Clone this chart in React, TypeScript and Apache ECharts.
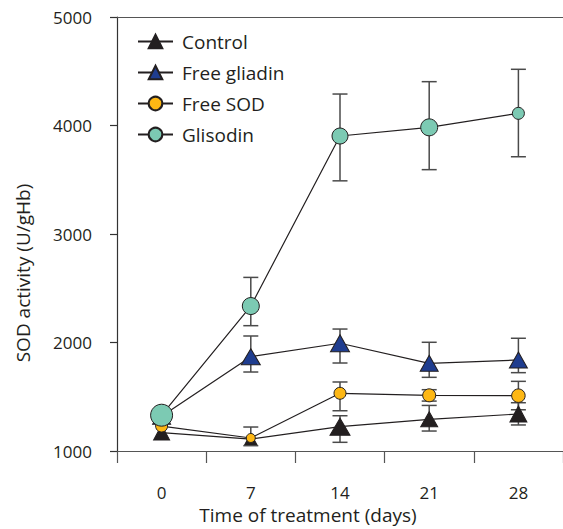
import React, { useEffect, useRef } from 'react';
import * as echarts from 'echarts';

// ---- data ----
const days = ['0', '7', '14', '21', '28'];

const controlMean = [1170, 1110, 1224, 1292, 1341];
const controlLow = [null, null, 1080, 1184, 1240];
const controlHigh = [null, null, 1325, 1420, 1445];

const gliadinMean = [1320, 1869, 1993, 1808, 1839];
const gliadinLow = [null, 1728, 1811, 1679, 1722];
const gliadinHigh = [null, 2060, 2124, 2002, 2039];

const sodMean = [1230, 1120, 1532, 1513, 1510];
const sodLow = [null, 1049, 1371, 1460, 1380];
const sodHigh = [null, 1221, 1636, 1565, 1642];

const glisodinMean = [1330, 2336, 3903, 3983, 4112];
const glisodinLow = [null, 2155, 3490, 3593, 3712];
const glisodinHigh = [null, 2600, 4290, 4404, 4518];

// ---- styles ----
const FONT = '"Open Sans", "Noto Sans", sans-serif';
const INK = '#231f20';
const AXIS = '#555555';

const controlSizes = [[16, 15], [12, 11], [20, 17], [17, 15], [17, 16]];
const gliadinSizes = [[18, 16], [19, 16], [19, 17], [18, 16], [18, 16]];
const sodSizes = [12, 9, 12, 13, 13.5];
const glisodinSizes = [22, 17, 16, 17, 12];

function withSizes(vals: number[], sizes: any[]) {
  return vals.map((v, i) => ({ value: v, symbolSize: sizes[i] }));
}

function errData(low: (number | null)[], high: (number | null)[]) {
  const out: number[][] = [];
  low.forEach((lo, i) => {
    const hi = high[i];
    if (lo != null && hi != null) out.push([i, lo, hi]);
  });
  return out;
}

const errStyle = { stroke: '#4a4a4a', lineWidth: 1.5, fill: null };
const renderErr = (params: any, api: any) => {
  const idx = api.value(0);
  const lo = api.coord([idx, api.value(1)]);
  const hi = api.coord([idx, api.value(2)]);
  const hw = 7.5;
  return {
    type: 'group',
    children: [
      { type: 'line', shape: { x1: lo[0], y1: lo[1], x2: hi[0], y2: hi[1] }, style: errStyle },
      { type: 'line', shape: { x1: lo[0] - hw, y1: lo[1], x2: lo[0] + hw, y2: lo[1] }, style: errStyle },
      { type: 'line', shape: { x1: hi[0] - hw, y1: hi[1], x2: hi[0] + hw, y2: hi[1] }, style: errStyle },
    ],
  };
};

function errSeries(low: any[], high: any[]) {
  return {
    type: 'custom',
    coordinateSystem: 'cartesian2d',
    xAxisIndex: 0,
    yAxisIndex: 0,
    silent: true,
    z: 1,
    renderItem: renderErr,
    encode: { x: 0, y: [1, 2] },
    data: errData(low, high),
  };
}

function lineSeries(name: string, symbol: string, fill: string, data: any[]) {
  return {
    name,
    type: 'line',
    symbol,
    data,
    z: 2,
    lineStyle: { color: INK, width: 1.2 },
    itemStyle: { color: fill, borderColor: INK, borderWidth: 1 },
    emphasis: { disabled: true },
  };
}

export default function App() {
  const ref = useRef<HTMLDivElement>(null);
  useEffect(() => {
    if (!ref.current) return;
    const chart = echarts.init(ref.current, undefined, { renderer: 'svg' });
    chart.setOption({
      animation: false,
      backgroundColor: '#ffffff',
      grid: { left: 117, top: 17, width: 455, height: 434, containLabel: false },
      legend: {
        orient: 'vertical',
        left: 137,
        top: 32,
        padding: 0,
        itemWidth: 35,
        itemHeight: 17,
        itemGap: 12,
        data: ['Control', 'Free gliadin', 'Free SOD', 'Glisodin'],
        textStyle: { fontFamily: FONT, fontSize: 19, color: INK, padding: [0, 0, 0, 4] },
        selectedMode: false,
      },
      xAxis: [
        {
          type: 'category',
          data: days,
          boundaryGap: true,
          axisLine: { lineStyle: { color: AXIS, width: 1.2 } },
          axisTick: { show: true, length: 12, interval: 0, lineStyle: { color: AXIS, width: 1.2 } },
          axisLabel: { margin: 33, fontFamily: FONT, fontSize: 17, color: INK, interval: 0 },
          splitLine: { show: false },
        },
        {
          type: 'category',
          data: days,
          position: 'top',
          boundaryGap: true,
          axisLine: { lineStyle: { color: AXIS, width: 1.2 } },
          axisTick: { show: false },
          axisLabel: { show: false },
          splitLine: { show: false },
        },
      ],
      yAxis: {
        type: 'value',
        min: 1000,
        max: 5000,
        interval: 1000,
        axisLine: { show: true, lineStyle: { color: '#333333', width: 1.2 } },
        axisTick: { show: true, length: 7, lineStyle: { color: '#333333', width: 1.2 } },
        axisLabel: {
          margin: 25,
          fontFamily: FONT,
          fontSize: 17,
          color: INK,
          formatter: (v: number) => String(v),
        },
        splitLine: { show: false },
      },
      graphic: [
        {
          type: 'text',
          x: 23,
          y: 273,
          rotation: Math.PI / 2,
          style: {
            text: 'SOD activity (U/gHb)',
            fontFamily: FONT,
            fontSize: 19,
            fill: INK,
            align: 'center',
            verticalAlign: 'middle',
          },
        },
        {
          type: 'text',
          x: 308,
          y: 515,
          style: {
            text: 'Time of treatment (days)',
            fontFamily: FONT,
            fontSize: 19,
            fill: INK,
            align: 'center',
            verticalAlign: 'middle',
          },
        },
      ],
      series: [
        errSeries(controlLow, controlHigh),
        errSeries(gliadinLow, gliadinHigh),
        errSeries(sodLow, sodHigh),
        errSeries(glisodinLow, glisodinHigh),
        lineSeries('Control', 'triangle', INK, withSizes(controlMean, controlSizes)),
        lineSeries('Free gliadin', 'triangle', '#1f3d8f', withSizes(gliadinMean, gliadinSizes)),
        lineSeries('Free SOD', 'circle', '#fdb714', withSizes(sodMean, sodSizes)),
        lineSeries('Glisodin', 'circle', '#7ccab3', withSizes(glisodinMean, glisodinSizes)),
      ],
    });
    return () => chart.dispose();
  }, []);
  return <div ref={ref} style={{ width: 563, height: 529, position: 'absolute', left: 0, top: 0 }} />;
}
